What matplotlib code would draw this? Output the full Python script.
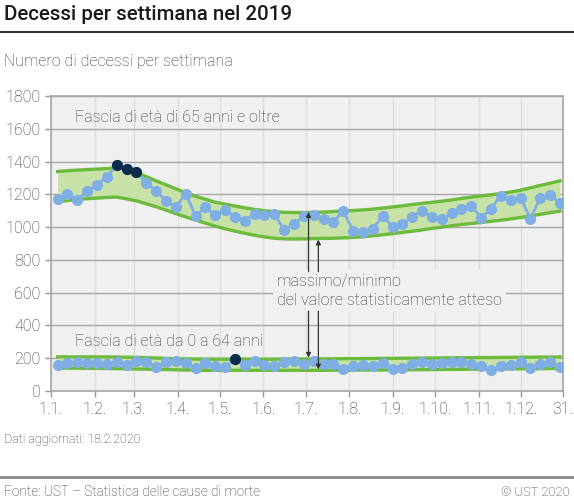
import matplotlib.pyplot as plt

# weekly deaths 2019, 52 weeks
weeks = list(range(52))
over65 = [1171, 1202, 1167, 1218, 1257, 1308, 1376, 1355, 1335, 1269,
          1222, 1159, 1122, 1204, 1069, 1120, 1073, 1104, 1060, 1038,
          1082, 1074, 1078, 983, 1019, 1068, 1074, 1050, 1031, 1100,
          975, 971, 989, 1068, 1001, 1018, 1063, 1100, 1059, 1047,
          1086, 1108, 1131, 1057, 1112, 1192, 1163, 1180, 1051, 1180,
          1196, 1149]
over65_hi = [1339, 1344, 1348, 1351, 1354, 1357, 1362, 1352, 1332, 1308,
             1282, 1258, 1234, 1210, 1188, 1170, 1152, 1140, 1128, 1118,
             1108, 1100, 1094, 1090, 1089, 1089, 1090, 1092, 1095, 1098,
             1101, 1105, 1110, 1116, 1123, 1130, 1138, 1145, 1151, 1158,
             1166, 1175, 1183, 1190, 1197, 1205, 1214, 1225, 1240, 1254,
             1268, 1282]
over65_lo = [1155, 1162, 1168, 1173, 1177, 1181, 1183, 1172, 1160, 1142,
             1124, 1104, 1082, 1062, 1043, 1024, 1006, 990, 975, 962,
             950, 940, 932, 928, 927, 928, 930, 931, 932, 934,
             937, 941, 947, 953, 960, 967, 975, 983, 992, 1000,
             1008, 1016, 1022, 1028, 1035, 1042, 1050, 1058, 1068, 1078,
             1088, 1098]
under65 = [156, 172, 179, 172, 172, 162, 176, 158, 183, 179,
           144, 179, 183, 172, 140, 172, 150, 144, 197, 158,
           181, 158, 152, 179, 181, 164, 181, 166, 165, 137,
           150, 156, 153, 170, 137, 142, 164, 179, 162, 168,
           179, 177, 162, 154, 130, 154, 158, 177, 138, 162,
           179, 146]
under65_hi = [208, 208, 208, 208, 208, 208, 207, 206, 205, 203,
              201, 199, 197, 196, 195, 194, 194, 194, 194, 194,
              194, 194, 194, 195, 195, 195, 195, 196, 196, 197,
              197, 198, 198, 199, 199, 200, 200, 201, 201, 202,
              202, 203, 203, 204, 204, 205, 205, 206, 206, 207,
              207, 208]
under65_lo = [140, 139, 139, 138, 138, 137, 136, 135, 134, 133,
              132, 131, 129, 128, 127, 126, 126, 126, 126, 126,
              126, 126, 126, 126, 126, 126, 126, 126, 127, 127,
              127, 128, 128, 128, 129, 129, 130, 130, 131, 131,
              132, 132, 133, 133, 134, 134, 135, 135, 136, 136,
              137, 137]
over65_peak = [6, 7, 8]
under65_peak = [18]

month_days = [0, 31, 59, 90, 120, 151, 181, 212, 243, 273, 304, 334, 364]
month_labels = ['1.1.', '1.2.', '1.3.', '1.4.', '1.5.', '1.6.', '1.7.',
                '1.8.', '1.9.', '1.10.', '1.11.', '1.12.', '31.']

plt.rcParams['font.family'] = ['Roboto', 'DejaVu Sans']
plt.rcParams['font.weight'] = 'light'

BLUE = '#7eaee3'
NAVY = '#0b2b4a'
GREEN = '#6cbb3c'
FILL = '#c8e1a6'
TXT = '#333333'
FS = 11.5

days = [4.7 + 7 * w for w in weeks]

fig = plt.figure(figsize=(5.74, 5.01), dpi=100)
ax = fig.add_axes([0.0889, 0.2196, 0.8923, 0.5888])
ax.set_facecolor('#f0f0f0')

for lo, hi in [(over65_lo, over65_hi), (under65_lo, under65_hi)]:
    ax.fill_between(days, lo, hi, color=FILL, lw=0, zorder=2)
    ax.plot(days, hi, color=GREEN, lw=2.4, zorder=3)
    ax.plot(days, lo, color=GREEN, lw=2.4, zorder=3)

for vals, peak in [(over65, over65_peak), (under65, under65_peak)]:
    ax.plot(days, vals, color=BLUE, lw=2, marker='o', ms=7, zorder=4)
    ax.plot([days[i] for i in peak], [vals[i] for i in peak], color=NAVY,
            lw=2, marker='o', ms=7, zorder=5)

ax.set_xlim(0, 364)
ax.set_ylim(0, 1800)
ax.set_yticks(range(0, 1801, 200))
ax.set_xticks(month_days)
ax.set_xticklabels(month_labels)
ax.tick_params(colors='#999999', labelcolor=TXT, labelsize=FS, length=4,
               width=1)
ax.tick_params(axis='x', pad=4)
ax.grid(axis='y', color='#a6a6a6', lw=1, zorder=1)
ax.grid(axis='x', color='#dedede', lw=1, zorder=1)
ax.set_axisbelow(True)
for s in ax.spines.values():
    s.set_color('#a6a6a6')
    s.set_linewidth(1.2)

ax.text(17.3, 1670, 'Fascia di età di 65 anni e oltre', fontsize=FS,
        color=TXT, va='center', zorder=6)
ax.text(17.3, 303, 'Fascia di età da 0 a 64 anni', fontsize=FS,
        color=TXT, va='center', zorder=6)

ax.text(160.5, 609, 'massimo/minimo\ndel valore statisticamente atteso',
        fontsize=FS, color=TXT, va='center', linespacing=1.3, zorder=6,
        bbox=dict(facecolor='#f0f0f0', edgecolor='none', pad=3))

arr = dict(arrowstyle='-|>', color=TXT, lw=0.9, mutation_scale=7,
           shrinkA=0, shrinkB=0)
ax.annotate('', xy=(183, 1092), xytext=(183, 728), arrowprops=arr, zorder=6)
ax.annotate('', xy=(190, 924), xytext=(190, 728), arrowprops=arr, zorder=6)
ax.annotate('', xy=(183, 203), xytext=(183, 487), arrowprops=arr, zorder=6)
ax.annotate('', xy=(190, 132), xytext=(190, 487), arrowprops=arr, zorder=6)

fig.text(4 / 574, 1 - 15 / 501, 'Decessi per settimana nel 2019',
         fontsize=14.8, fontweight='medium', color='#1a1a1a', va='center')
fig.add_artist(plt.Line2D([0, 1], [1 - 32 / 501] * 2, color='#333333',
                          lw=1.5))
fig.text(4 / 574, 1 - 62 / 501, 'Numero di decessi per settimana',
         fontsize=FS, color=TXT, va='center')
fig.text(4 / 574, 1 - 440 / 501, 'Dati aggiornati: 18.2.2020',
         fontsize=9, color=TXT, va='center')
fig.add_artist(plt.Line2D([0, 1], [1 - 477 / 501] * 2, color='#888888',
                          lw=2))
fig.text(4 / 574, 1 - 492 / 501,
         'Fonte: UST – Statistica delle cause di morte',
         fontsize=9.8, color=TXT, va='center')
fig.text(570 / 574, 1 - 492 / 501, '© UST 2020', fontsize=9.3, color=TXT,
         va='center', ha='right')

fig.savefig('out.png', dpi=100)
